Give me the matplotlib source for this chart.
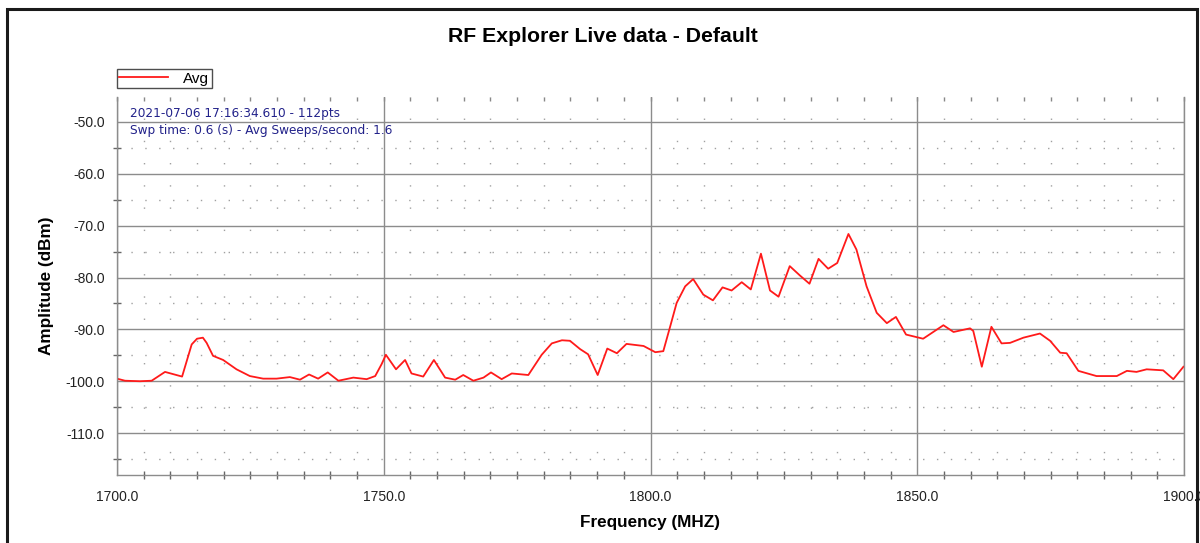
import matplotlib
matplotlib.use("Agg")
import matplotlib.pyplot as plt
from matplotlib.patches import Rectangle
from matplotlib.ticker import MultipleLocator, FormatStrFormatter, NullFormatter

# ---- data ----
freq_mhz = [
    1700.0, 1701.5, 1704.3, 1706.5, 1709.0, 1712.2, 1714.0, 1715.0, 1716.1, 1716.8,
    1718.0, 1719.9, 1722.4, 1724.9, 1727.4, 1729.9, 1732.4, 1734.3, 1736.0, 1737.7,
    1739.5, 1741.5, 1744.3, 1746.8, 1748.4, 1749.6, 1750.4, 1752.3, 1754.0, 1755.2,
    1757.4, 1759.4, 1761.5, 1763.4, 1764.9, 1766.8, 1768.7, 1770.1, 1772.1, 1774.0,
    1777.1, 1779.6, 1781.5, 1783.4, 1784.9, 1786.8, 1788.3, 1790.1, 1791.9, 1793.7,
    1795.5, 1798.7, 1800.9, 1802.4, 1803.7, 1804.9, 1806.5, 1808.0, 1809.9, 1811.7,
    1813.5, 1815.2, 1817.1, 1818.8, 1820.7, 1822.4, 1824.0, 1826.1, 1828.0, 1829.8,
    1831.5, 1833.3, 1835.0, 1837.1, 1838.6, 1840.5, 1842.4, 1844.3, 1846.0, 1847.9,
    1851.1, 1854.9, 1856.8, 1859.9, 1860.5, 1862.1, 1863.9, 1865.8, 1867.4, 1869.9,
    1873.0, 1874.9, 1876.8, 1878.0, 1880.2, 1883.6, 1887.4, 1889.3, 1891.1, 1893.0,
    1896.1, 1898.0, 1899.9,
]
avg_dbm = [
    -99.5, -99.9, -100.0, -99.9, -98.2, -99.1, -92.9, -91.8, -91.6, -92.6,
    -95.1, -95.9, -97.7, -99.0, -99.5, -99.5, -99.2, -99.7, -98.7, -99.5,
    -98.3, -99.9, -99.3, -99.6, -99.0, -96.7, -94.9, -97.7, -95.9, -98.5,
    -99.1, -95.9, -99.3, -99.7, -98.8, -99.9, -99.3, -98.3, -99.6, -98.5,
    -98.8, -94.9, -92.7, -92.1, -92.2, -93.8, -94.8, -98.8, -93.7, -94.6,
    -92.8, -93.2, -94.4, -94.2, -89.4, -84.9, -81.7, -80.3, -83.3, -84.4,
    -81.9, -82.5, -80.9, -82.3, -75.4, -82.5, -83.7, -77.8, -79.6, -81.2,
    -76.4, -78.3, -77.2, -71.6, -74.6, -81.7, -86.8, -88.8, -87.6, -91.0,
    -91.8, -89.2, -90.5, -89.8, -90.3, -97.2, -89.5, -92.7, -92.6, -91.6,
    -90.8, -92.2, -94.5, -94.6, -98.0, -99.0, -99.0, -98.0, -98.2, -97.7,
    -97.9, -99.6, -97.2,
]
series_name = "Avg"
title_text = "RF Explorer Live data - Default"
x_label = "Frequency (MHZ)"
y_label = "Amplitude (dBm)"
info_lines = ["2021-07-06 17:16:34.610 - 112pts",
              "Swp time: 0.6 (s) - Avg Sweeps/second: 1.6"]

plt.rcParams['font.family'] = ['Liberation Sans', 'DejaVu Sans']

W, H = 1200, 543
fig = plt.figure(figsize=(W / 100, H / 100), dpi=100)
fig.patch.set_facecolor('white')

# outer frame of the window
fig.add_artist(Rectangle((7 / W, -0.02), (1197 - 7) / W, 1 - 9 / H + 0.02,
                         transform=fig.transFigure, fill=False,
                         edgecolor='#1a1a1a', linewidth=2.2))

ax = fig.add_axes([117 / W, 1 - 475 / H, (1184 - 117) / W, (475 - 97) / H])
ax.set_xlim(1700, 1900)
ax.set_ylim(-118.08, -45.19)

grid_col = '#8c8c8c'
ax.xaxis.set_major_locator(MultipleLocator(50))
ax.xaxis.set_minor_locator(MultipleLocator(5))
ax.yaxis.set_major_locator(MultipleLocator(10))
ax.yaxis.set_minor_locator(MultipleLocator(5))
ax.xaxis.set_major_formatter(FormatStrFormatter('%.1f'))
ax.yaxis.set_major_formatter(FormatStrFormatter('%.1f'))

ax.grid(True, which='major', color=grid_col, linewidth=1.0)
ax.grid(True, which='minor', axis='x', color='#a0a0a0', linewidth=1.0,
        linestyle=(0, (1, 15)))
ax.grid(True, which='minor', axis='y', color='#a0a0a0', linewidth=1.0,
        linestyle=(0, (1, 9)))
ax.set_axisbelow(True)

for side in ['left', 'bottom', 'right']:
    ax.spines[side].set_color(grid_col)
    ax.spines[side].set_linewidth(1.0)
ax.spines['top'].set_visible(False)

ax.tick_params(which='both', direction='inout', color='#666666', width=1.0,
               labelsize=10, labelcolor='#222222')
ax.tick_params(which='major', length=0, pad=9)
ax.tick_params(which='minor', length=6)
ax.tick_params(axis='x', which='major', pad=11)

# small tick marks along the top edge
top = ax.secondary_xaxis('top')
top.xaxis.set_major_locator(MultipleLocator(5))
top.xaxis.set_major_formatter(NullFormatter())
top.tick_params(which='major', direction='in', length=3, color='#888888', width=1.0)
top.tick_params(which='minor', length=0)
top.spines['top'].set_visible(False)

ax.plot(freq_mhz, avg_dbm, color='#ff1a1a', linewidth=1.3, label=series_name,
        solid_joinstyle='round')

ax.set_xlabel(x_label, fontsize=12.3, fontweight='bold', labelpad=8)
ax.set_ylabel(y_label, fontsize=12.3, fontweight='bold', labelpad=8)
fig.text(603 / W, 1 - 36 / H, title_text, ha='center', va='center',
         fontsize=15.3, fontweight='bold')

leg = fig.legend(loc='lower left', bbox_to_anchor=(117 / W, 1 - 88 / H),
                 borderaxespad=0, fancybox=False, frameon=True, fontsize=11,
                 handlelength=3.2, handletextpad=1.0, borderpad=0.15,
                 edgecolor='#222222')
leg.get_frame().set_linewidth(1.0)

for i, line in enumerate(info_lines):
    fig.text(130 / W, 1 - (114 + 17 * i) / H, line, ha='left', va='center',
             fontsize=8.7, color='#22228a', family='DejaVu Sans')

fig.savefig('out.png', dpi=100)
